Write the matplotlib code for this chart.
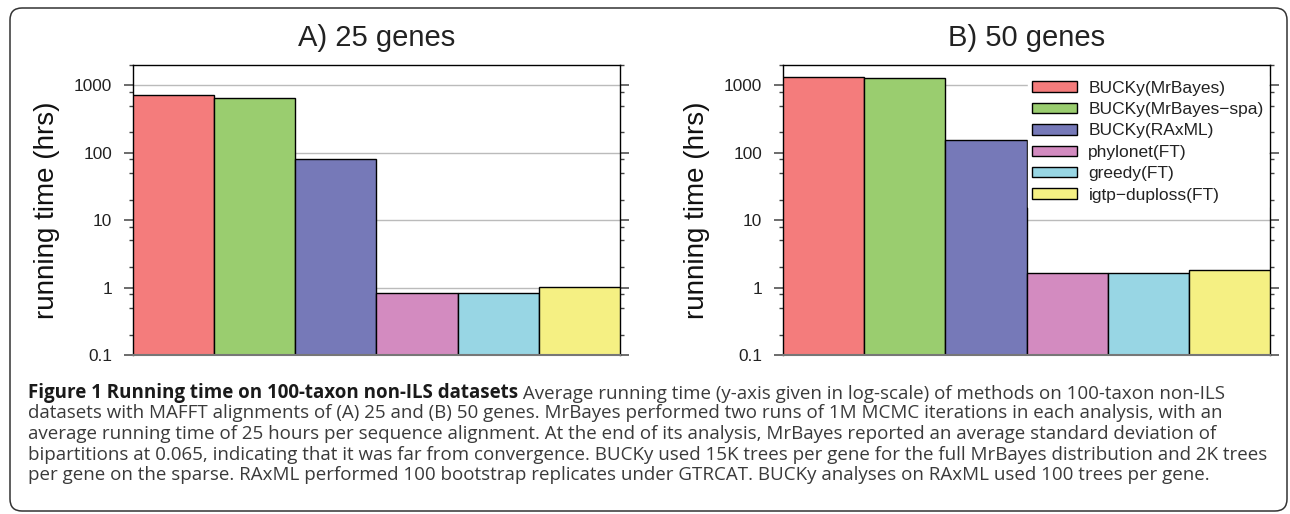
import matplotlib
matplotlib.use("Agg")
import matplotlib.pyplot as plt
import matplotlib.ticker as mticker
from matplotlib.patches import FancyBboxPatch
from matplotlib.transforms import IdentityTransform

plt.rcParams["font.family"] = ["Liberation Sans", "DejaVu Sans"]

# ─── data ────────────────────────────────────────────────────────────────────
methods = ["BUCKy(MrBayes)", "BUCKy(MrBayes\u2212spa)", "BUCKy(RAxML)",
           "phylonet(FT)", "greedy(FT)", "igtp\u2212duploss(FT)"]
colors = ["#f47c7c", "#9acd6f", "#7679b8", "#d38bc0", "#98d6e4", "#f5f083"]
hours_25 = [726, 641, 80.5, 0.84, 0.82, 1.03]
hours_50 = [1330, 1290, 154, 1.66, 1.66, 1.85]
panel_titles = ["A) 25 genes", "B) 50 genes"]

caption_bold = "Figure 1 Running time on 100-taxon non-ILS datasets"
caption_lines = [
    " Average running time (y-axis given in log-scale) of methods on 100-taxon non-ILS",
    "datasets with MAFFT alignments of (A) 25 and (B) 50 genes. MrBayes performed two runs of 1M MCMC iterations in each analysis, with an",
    "average running time of 25 hours per sequence alignment. At the end of its analysis, MrBayes reported an average standard deviation of",
    "bipartitions at 0.065, indicating that it was far from convergence. BUCKy used 15K trees per gene for the full MrBayes distribution and 2K trees",
    "per gene on the sparse. RAxML performed 100 bootstrap replicates under GTRCAT. BUCKy analyses on RAxML used 100 trees per gene.",
]

W, H = 1290, 514
fig = plt.figure(figsize=(W / 100, H / 100), dpi=100)


def px(x0, y0, w, h):
    # pixel box (top-left origin) -> figure fraction
    return [x0 / W, 1 - (y0 + h) / H, w / W, h / H]


def draw_panel(ax, values, title):
    x = list(range(len(values)))
    ax.set_yscale("log")
    ax.bar(x, values, width=1.0, color=colors, edgecolor="black",
           linewidth=1.0, zorder=3, label=methods)
    ax.set_ylim(0.1, 2000)
    ax.set_xlim(-0.5, len(values) - 0.5)
    ax.set_xticks([])
    ax.yaxis.set_major_locator(mticker.FixedLocator([0.1, 1, 10, 100, 1000]))
    ax.yaxis.set_major_formatter(mticker.FuncFormatter(lambda v, _: f"{v:g}"))
    ax.yaxis.set_minor_locator(mticker.LogLocator(base=10, subs=[2, 5, 8]))
    ax.yaxis.set_minor_formatter(mticker.NullFormatter())
    ax.tick_params(axis="y", which="major", direction="out", length=6.5, width=1.1,
                   color="#444444", labelsize=12.4, pad=8.5, right=True,
                   labelcolor="#222222")
    ax.tick_params(axis="y", which="minor", direction="out", length=3, width=1.0,
                   color="#444444", right=True)
    ax.grid(axis="y", which="major", color="#bbbbbb", linewidth=1.0, zorder=0)
    ax.set_axisbelow(True)
    for side in ["left", "right", "top"]:
        ax.spines[side].set_color("black")
        ax.spines[side].set_linewidth(1.0)
    ax.spines["bottom"].set_color("#777777")
    ax.spines["bottom"].set_linewidth(1.5)
    ax.spines["bottom"].set_zorder(4)
    ax.set_title(title, fontsize=21, pad=13.7, color="#222222")
    ax.set_ylabel("running time (hrs)", fontsize=20, color="#111111")
    ax.yaxis.set_label_coords(-0.15, 0.5)


ax_a = fig.add_axes(px(133, 65, 487, 290))
ax_b = fig.add_axes(px(783, 65, 487, 290))
draw_panel(ax_a, hours_25, panel_titles[0])
draw_panel(ax_b, hours_50, panel_titles[1])

leg = ax_b.legend(loc="upper left", bbox_to_anchor=(0.503, 0.961),
                  fontsize=12.5, frameon=True, framealpha=1.0, fancybox=False,
                  edgecolor="white", facecolor="white", borderpad=0.25,
                  borderaxespad=0, handlelength=2.6, handleheight=0.55,
                  handletextpad=0.63, labelspacing=0.37)
for t in leg.get_texts():
    t.set_color("#222222")

# caption box
box = FancyBboxPatch((10, 3), 1277, 503, boxstyle="round,pad=0,rounding_size=12",
                     transform=IdentityTransform(), facecolor="none",
                     edgecolor="#333333", linewidth=1.1)
fig.add_artist(box)

cap_font = ["Open Sans", "DejaVu Sans"]
cap_size = 13.5
x0 = 28 / W
baselines = [398, 418.5, 439, 459.5, 480]
bold = fig.text(x0, 1 - baselines[0] / H, caption_bold, fontsize=cap_size,
                fontweight="bold", family=cap_font, color="#1a1a1a",
                ha="left", va="baseline")
# second part of line 1 is anchored to the end of the bold run
fig.add_artist(plt.Annotation(caption_lines[0], xy=(1, 0), xycoords=bold,
                              fontsize=cap_size, family=cap_font,
                              color="#3a3a3a", ha="left", va="bottom"))
for line, yb in zip(caption_lines[1:], baselines[1:]):
    fig.text(x0, 1 - yb / H, line, fontsize=cap_size, family=cap_font,
             color="#3a3a3a", ha="left", va="baseline")

fig.savefig("out.png", dpi=100)
